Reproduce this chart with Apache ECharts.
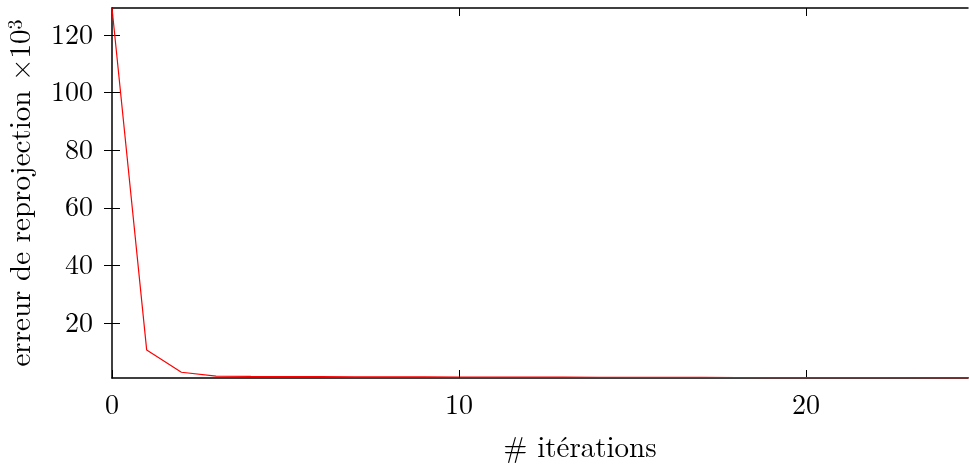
<!DOCTYPE html>
<html><head><meta charset="utf-8">
<script src="https://cdn.jsdelivr.net/npm/echarts@6/dist/echarts.min.js"></script>
<style>html,body{margin:0;padding:0;background:#fff}#c{width:969px;height:466px}</style>
</head><body><div id="c"></div>
<script>
const iterations = [0,1,2,3,4,5,6,7,8,9,10,11,12,13,14,15,16,17,18,19,20,21,22,23,24,25];
const erreur = [129.4,10.6,2.9,1.55,1.45,1.4,1.35,1.32,1.3,1.28,1.25,1.22,1.2,1.18,1.16,1.14,1.12,1.1,1.08,1.06,1.04,1.02,1.0,0.98,0.96,0.95];
const xTicks = [0,10,20];
const yTicks = [20,40,60,80,100,120];
const X_MAX = 24.67, Y_MIN = 0.9, Y_MAX = 129.4;

const font = "'Latin Modern Roman','CMU Serif','Liberation Serif','DejaVu Serif',serif";
const chart = echarts.init(document.getElementById('c'));
const axisLine = {show:true, lineStyle:{color:'#000', width:1.5}};
chart.setOption({
  animation:false,
  grid:{left:112, top:8, right:1, bottom:88, outerBoundsMode:'none', containLabel:false},
  xAxis:[{
    type:'value', min:0, max:X_MAX, position:'bottom',
    axisLine:axisLine,
    axisTick:{show:true, inside:true, length:8, lineStyle:{color:'#000', width:1}, customValues:xTicks},
    axisLabel:{show:true, customValues:xTicks, color:'#000', fontFamily:font, fontSize:28, margin:13},
    splitLine:{show:false},
    name:'# itérations', nameLocation:'middle', nameGap:56,
    nameTextStyle:{color:'#000', fontFamily:font, fontSize:29, padding:[0,0,0,80]}
  },{
    type:'value', min:0, max:X_MAX, position:'top',
    axisLine:axisLine,
    axisTick:{show:true, inside:true, length:8, lineStyle:{color:'#000', width:1}, customValues:xTicks},
    axisLabel:{show:false}, splitLine:{show:false}
  }],
  yAxis:[{
    type:'value', min:Y_MIN, max:Y_MAX, position:'left',
    axisLine:axisLine,
    axisTick:{show:true, inside:true, length:8, lineStyle:{color:'#000', width:1}, customValues:yTicks},
    axisLabel:{show:true, customValues:yTicks, color:'#000', fontFamily:font, fontSize:28, margin:19},
    splitLine:{show:false},
    name:'erreur de reprojection ×10{sup|3}', nameLocation:'middle', nameGap:76, nameRotate:90,
    nameTextStyle:{color:'#000', fontFamily:font, fontSize:29,
      rich:{sup:{fontFamily:font, fontSize:20, color:'#000', verticalAlign:'top', padding:[0,0,10,0]}}}
  },{
    type:'value', min:Y_MIN, max:Y_MAX, position:'right',
    axisLine:{show:false},
    axisTick:{show:true, inside:true, length:8, lineStyle:{color:'#000', width:1}, customValues:yTicks},
    axisLabel:{show:false}, splitLine:{show:false}
  }],
  series:[{
    type:'line', xAxisIndex:0, yAxisIndex:0,
    data: iterations.map((x,i)=>[x, erreur[i]]),
    showSymbol:false, symbol:'none', clip:true,
    lineStyle:{color:'#ff0000', width:1.2}
  }]
});
</script></body></html>
